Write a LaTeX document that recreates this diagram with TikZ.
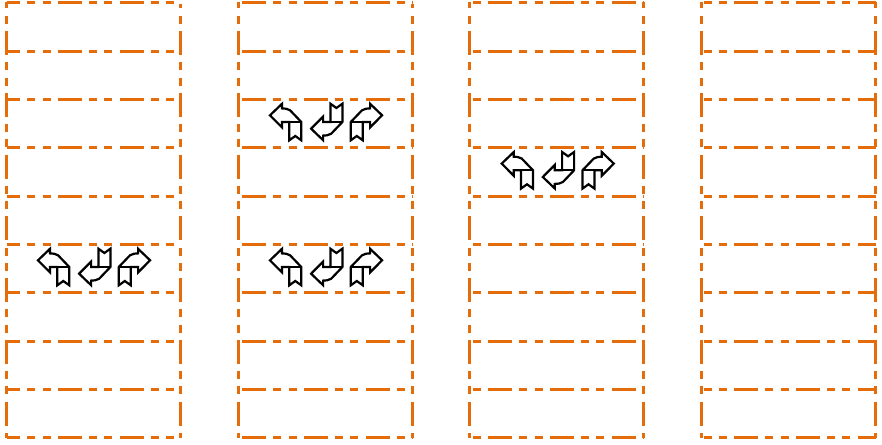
\documentclass[tikz,border=0pt]{standalone}
\definecolor{laneorange}{HTML}{E46C0A}
\tikzset{
  lanedash/.style={draw=laneorange,line width=2.8pt,dash pattern=on 24pt off 7.25pt on 8pt off 7.25pt on 8pt off 7.25pt,dash phase=#1},
  turnarrow/.style={draw=black,line width=2.2pt,line join=miter,fill=white},
  pics/turnicon/.style={code={
    \draw[turnarrow] (-15.6,-6.5) -- (-3.6,-18) -- (-3.6,-13.4) .. controls (-1,-13.4) and (2,-13.2) .. (4.5,-11.5) -- (15.7,0.2) -- (15.7,18.5) -- (9.7,14.2) -- (3.7,18.5) -- (3.7,0.2) -- (-3.6,0.2) -- (-3.6,5.6) -- cycle;
    \draw[turnarrow] (3.7,0.2) -- (15.7,0.2);
  }}
}
\begin{document}
\begin{tikzpicture}[x=1pt,y=-1pt]
\useasboundingbox (0,0) rectangle (882,444);
\foreach \xa/\xb/\ph/\ys/\ysph in {6.5/180.5/10.5/4/34.75,238.5/412.5/58.25/4/34.75,469.5/643.5/43.25/2.5/33.25,701.5/875.5/29.25/2.5/33.25}{
  \foreach \yy in {2.5,51.5,99.5,147.5,196.5,244.5,292.5,341.5,389.5,437.5}{
    \draw[lanedash=\ph] (\xa,\yy) -- (\xb,\yy);
  }
  \draw[lanedash=33.25] (\xa,2.5) -- (\xa,437.5);
  \draw[lanedash=\ysph] (\xb,\ys) -- (\xb,437.5);
}
\foreach \dx/\dy in {0/0,232/0,232/-145,463.7/-96.7}{
  \pic at (53.6+\dx,266.8+\dy) {turnicon};
  \pic[yscale=-1] at (94.7+\dx,267.2+\dy) {turnicon};
  \pic[xscale=-1] at (134.5+\dx,266.8+\dy) {turnicon};
}
\end{tikzpicture}
\end{document}
